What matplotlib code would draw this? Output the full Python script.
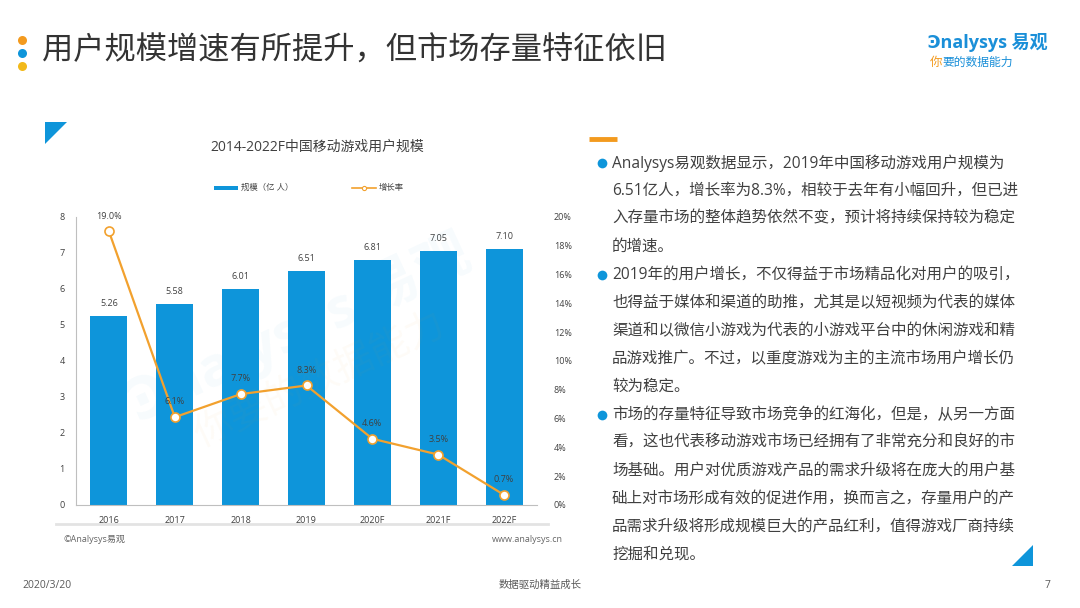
import matplotlib
matplotlib.use("Agg")
import matplotlib.pyplot as plt
from matplotlib.patches import Polygon

plt.rcParams["font.family"] = ["Open Sans", "Noto Sans CJK SC", "DejaVu Sans"]

years = ["2016", "2017", "2018", "2019", "2020F", "2021F", "2022F"]
users = [5.26, 5.58, 6.01, 6.51, 6.81, 7.05, 7.10]
growth = [19.0, 6.1, 7.7, 8.3, 4.6, 3.5, 0.7]
left_ticks = [0, 1, 2, 3, 4, 5, 6, 7, 8]
right_ticks = [0, 2, 4, 6, 8, 10, 12, 14, 16, 18, 20]

BLUE = "#0E95DA"
ORANGE = "#F2A12E"
TXT = "#404040"

W, H = 1080, 608
fig = plt.figure(figsize=(10.8, 6.08), dpi=100)


def fx(px):
    return px / W


def fy(py):
    return 1 - py / H


def dot(px, py, color, size):
    fig.lines.append(plt.Line2D([fx(px)], [fy(py)], transform=fig.transFigure, marker="o",
                                markersize=size, color=color, markeredgewidth=0))


# header
for py, c in [(40, "#F39A1E"), (53, "#0E95DA"), (66, "#F2B91A")]:
    dot(22, py, c, 6.5)
fig.text(fx(42), fy(52), "用户规模增速有所提升，但市场存量特征依旧", fontsize=22.5,
         color="#333333", va="center", ha="left")

# logo
fig.text(fx(1048), fy(42), "Ͽnalysys 易观", fontsize=13, color="#1a8fd8",
         ha="right", va="center", fontweight="bold")
fig.text(fx(930), fy(62), "你", fontsize=9, color="#F39A1E", ha="left", va="center",
         style="italic")
fig.text(fx(942), fy(62), "要的数据能力", fontsize=8.5, color="#1a8fd8", ha="left",
         va="center", style="italic")

# corner triangles
fig.patches.append(Polygon([(fx(45), fy(122)), (fx(67), fy(122)), (fx(45), fy(144))],
                           closed=True, transform=fig.transFigure, facecolor=BLUE))
fig.patches.append(Polygon([(fx(1012), fy(566)), (fx(1033), fy(566)), (fx(1033), fy(545))],
                           closed=True, transform=fig.transFigure, facecolor=BLUE))

# chart
ax = fig.add_axes([fx(76), fy(505), fx(537) - fx(76), fy(217) - fy(505)])
x = list(range(len(years)))
ax.bar(x, users, width=0.56, color=BLUE, zorder=2)
ax.set_xlim(-0.5, len(years) - 0.5)
ax.set_ylim(0, 8)
ax.set_yticks(left_ticks)
ax.set_xticks(x)
ax.set_xticklabels(years)
ax.tick_params(axis="both", length=0, labelsize=6.5, labelcolor=TXT, pad=8)
for s in ["top", "right"]:
    ax.spines[s].set_visible(False)
for s in ["left", "bottom"]:
    ax.spines[s].set_color("#BFBFBF")
    ax.spines[s].set_linewidth(0.8)
for xi, v in zip(x, users):
    ax.text(xi, v + 0.22, f"{v:.2f}", ha="center", va="bottom", fontsize=6.5, color=TXT)

ax2 = ax.twinx()
ax2.plot(x, growth, color=ORANGE, lw=1.6, marker="o", markersize=6.5,
         markerfacecolor="white", markeredgecolor=ORANGE, markeredgewidth=1.2, zorder=3)
ax2.set_ylim(0, 20)
ax2.set_yticks(right_ticks)
ax2.set_yticklabels([f"{t}%" for t in right_ticks])
ax2.tick_params(axis="y", length=0, labelsize=6.5, labelcolor=TXT, pad=12)
for s in ["top", "right", "left", "bottom"]:
    ax2.spines[s].set_visible(False)
for xi, g in zip(x, growth):
    ax2.text(xi, g + 0.75, f"{g:.1f}%", ha="center", va="bottom", fontsize=6.5, color=TXT)

# chart title and legend
fig.text(fx(317), fy(147), "2014-2022F中国移动游戏用户规模", fontsize=10, color=TXT,
         ha="center", va="center")
fig.patches.append(plt.Rectangle((fx(214), fy(190)), fx(24), fy(186) - fy(190),
                                 transform=fig.transFigure, facecolor=BLUE))
fig.text(fx(241), fy(188), "规模（亿 人）", fontsize=6, color=TXT, va="center")
fig.lines.append(plt.Line2D([fx(352), fx(376)], [fy(188), fy(188)], transform=fig.transFigure,
                            color=ORANGE, lw=1.2))
fig.lines.append(plt.Line2D([fx(364)], [fy(188)], transform=fig.transFigure, color=ORANGE,
                            marker="o", markersize=3, markerfacecolor="white",
                            markeredgewidth=0.8))
fig.text(fx(379), fy(188), "增长率", fontsize=6, color=TXT, va="center")

# watermark
fig.text(fx(300), fy(330), "Ͽnalysys 易观", fontsize=40, color=BLUE, alpha=0.035,
         rotation=25, ha="center", va="center", fontweight="bold")
fig.text(fx(320), fy(380), "你要的数据能力", fontsize=28, color="#F39A1E", alpha=0.035,
         rotation=25, ha="center", va="center")

# chart footer
fig.lines.append(plt.Line2D([fx(56), fx(548)], [fy(524), fy(524)], transform=fig.transFigure,
                            color="#E3E3E3", lw=2))
fig.text(fx(64), fy(539), "©Analysys易观", fontsize=6.5, color="#666666", va="center")
fig.text(fx(563), fy(539), "www.analysys.cn", fontsize=6.5, color="#666666", va="center",
         ha="right")

# right text
fig.lines.append(plt.Line2D([fx(589), fx(617)], [fy(139), fy(139)], transform=fig.transFigure,
                            color="#F39A1E", lw=3.5, solid_capstyle="butt"))
paragraphs = [
    ["Analysys易观数据显示，2019年中国移动游戏用户规模为",
     "6.51亿人，增长率为8.3%，相较于去年有小幅回升，但已进",
     "入存量市场的整体趋势依然不变，预计将持续保持较为稳定",
     "的增速。"],
    ["2019年的用户增长，不仅得益于市场精品化对用户的吸引，",
     "也得益于媒体和渠道的助推，尤其是以短视频为代表的媒体",
     "渠道和以微信小游戏为代表的小游戏平台中的休闲游戏和精",
     "品游戏推广。不过，以重度游戏为主的主流市场用户增长仍",
     "较为稳定。"],
    ["市场的存量特征导致市场竞争的红海化，但是，从另一方面",
     "看，这也代表移动游戏市场已经拥有了非常充分和良好的市",
     "场基础。用户对优质游戏产品的需求升级将在庞大的用户基",
     "础上对市场形成有效的促进作用，换而言之，存量用户的产",
     "品需求升级将形成规模巨大的产品红利，值得游戏厂商持续",
     "挖掘和兑现。"],
]
py = 163
for para in paragraphs:
    dot(602, py, BLUE, 7)
    for line in para:
        fig.text(fx(612), fy(py), line, fontsize=11.2, color=TXT, va="center", ha="left")
        py += 28

# page footer
fig.text(fx(22), fy(585), "2020/3/20", fontsize=7.5, color="#595959", va="center")
fig.text(fx(540), fy(585), "数据驱动精益成长", fontsize=7.5, color="#595959", va="center",
         ha="center")
fig.text(fx(1050), fy(585), "7", fontsize=7.5, color="#595959", va="center", ha="right")

fig.savefig("out.png", dpi=100)
